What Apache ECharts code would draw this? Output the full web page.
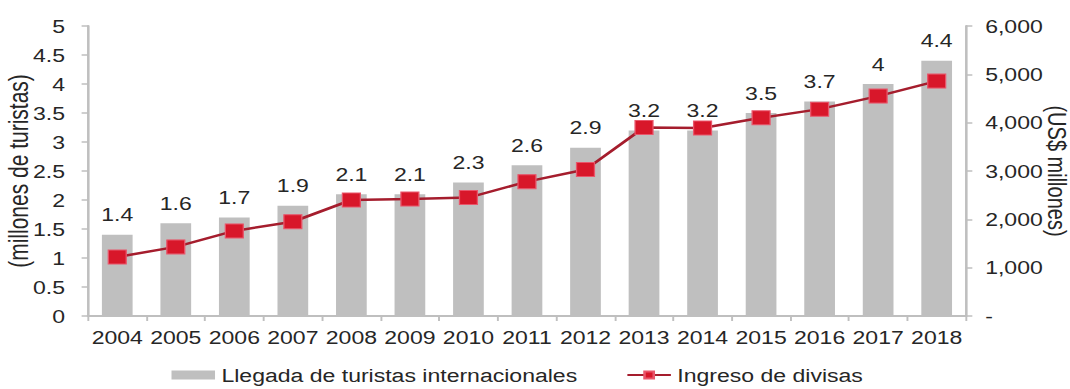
<!DOCTYPE html>
<html>
<head>
<meta charset="utf-8">
<script src="https://cdn.jsdelivr.net/npm/echarts@6/dist/echarts.min.js"></script>
<style>
  html, body { margin: 0; padding: 0; background: #ffffff; overflow: hidden; }
  #main { width: 836px; height: 389px; transform: scaleX(1.2799); transform-origin: 0 0; }
</style>
</head>
<body>
<div id="main"></div>
<script>
const years = ['2004','2005','2006','2007','2008','2009','2010','2011','2012','2013','2014','2015','2016','2017','2018'];
const arrivals = [1.4, 1.6, 1.7, 1.9, 2.1, 2.1, 2.3, 2.6, 2.9, 3.2, 3.2, 3.5, 3.7, 4.0, 4.4];
const income = [1220, 1430, 1760, 1950, 2400, 2420, 2450, 2780, 3030, 3900, 3890, 4100, 4280, 4550, 4860];
const seriesNames = ['Llegada de turistas internacionales', 'Ingreso de divisas'];
const axisNames = ['(millones de turistas)', '(US$ millones)'];

const font = 'Liberation Sans, Arial, sans-serif';
const txt = '#262626';
const axisGray = '#bfbfbf';

const chart = echarts.init(document.getElementById('main'), null, { renderer: 'svg' });
chart.setOption({
  animation: false,
  backgroundColor: '#ffffff',
  textStyle: { fontFamily: font },
  grid: { left: 68.75, right: 81.3, top: 26, bottom: 73, containLabel: false, outerBoundsMode: 'none' },
  legend: {
    left: 134, top: 366, padding: 0,
    itemWidth: 34, itemHeight: 9, itemGap: 38,
    textStyle: { fontSize: 18, color: txt, fontFamily: font },
    data: [
      { name: seriesNames[0], icon: 'rect' },
      { name: seriesNames[1] }
    ]
  },
  xAxis: {
    type: 'category',
    data: years,
    boundaryGap: true,
    axisLine: { lineStyle: { color: axisGray, width: 2 } },
    axisTick: { show: true, length: 5, lineStyle: { color: axisGray, width: 1.5 } },
    axisLabel: { interval: 0, fontSize: 18, color: txt, margin: 12, fontFamily: font }
  },
  yAxis: [
    {
      type: 'value', min: 0, max: 5, interval: 0.5, position: 'left',
      name: axisNames[0], nameLocation: 'middle', nameRotate: 90, nameGap: 44,
      nameMoveOverlap: false,
      nameTextStyle: { fontSize: 21, color: txt, fontFamily: font },
      splitLine: { show: false },
      axisLine: { show: true, lineStyle: { color: axisGray, width: 2 } },
      axisTick: { show: true, length: 5, lineStyle: { color: axisGray, width: 1.5 } },
      axisLabel: { fontSize: 18, color: txt, margin: 18, fontFamily: font }
    },
    {
      type: 'value', min: 0, max: 6000, interval: 1000, position: 'right',
      name: axisNames[1], nameLocation: 'middle', nameRotate: -90, nameGap: 61,
      nameMoveOverlap: false,
      nameTextStyle: { fontSize: 20, color: txt, fontFamily: font },
      splitLine: { show: false },
      axisLine: { show: true, lineStyle: { color: axisGray, width: 2 } },
      axisTick: { show: true, length: 5, lineStyle: { color: axisGray, width: 1.5 } },
      axisLabel: {
        fontSize: 18, color: txt, margin: 15, fontFamily: font,
        formatter: v => v === 0 ? '-' : v.toLocaleString('en-US')
      }
    }
  ],
  series: [
    {
      name: seriesNames[0],
      type: 'bar',
      yAxisIndex: 0,
      data: arrivals,
      barWidth: 24,
      itemStyle: { color: '#bfbfbf' },
      label: { show: true, position: 'top', distance: 11, fontSize: 18, color: txt, fontFamily: font }
    },
    {
      name: seriesNames[1],
      type: 'line',
      yAxisIndex: 1,
      data: income,
      symbol: 'rect',
      symbolSize: 14,
      lineStyle: { color: '#a51d2d', width: 2.5 },
      itemStyle: { color: '#d8172a', borderColor: '#e9566b', borderWidth: 1 },
      z: 3
    }
  ]
});
</script>
</body>
</html>
